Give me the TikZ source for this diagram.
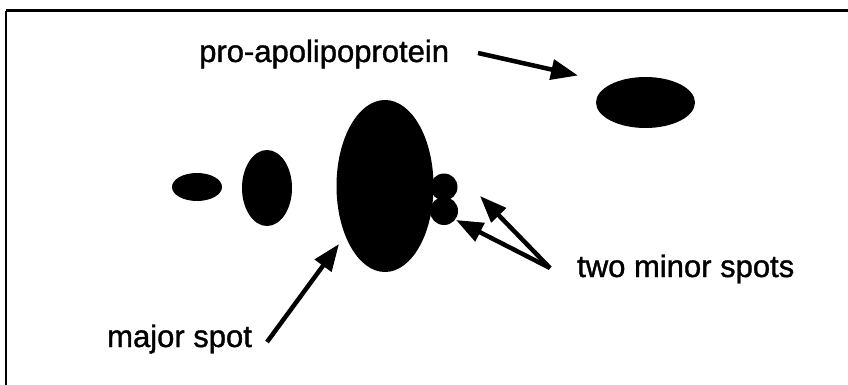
\documentclass[tikz,border=0pt]{standalone}
\usepackage{fontspec}
\setmainfont{Liberation Sans}[BoldFont=Liberation Sans,BoldFeatures={FakeBold=1.2}]
\usetikzlibrary{shapes.geometric,arrows.meta}
\begin{document}
\begin{tikzpicture}[x=1pt,y=-1pt,
  spot/.style={ellipse,fill=black,draw=none,inner sep=0pt},
  lbl/.style={anchor=base west,inner sep=0pt,font=\fontsize{31}{36}\selectfont\bfseries},
  pointer/.style={line width=4.5pt,-{Triangle[length=27pt,width=20pt]}}]
\useasboundingbox (0,0) rectangle (848,385);
\fill[white] (0,0) rectangle (848,385);
\clip (0,0) rectangle (848,385);
% frame
\draw[line width=3pt] (6,11) -- (860,11);
\draw[line width=2.5pt] (6,11) -- (6,400);
% spots
\node[spot,minimum width=50pt,minimum height=28pt] (s1) at (197,187) {};
\node[spot,minimum width=50pt,minimum height=76pt] (s2) at (267,188) {};
\node[spot,minimum width=97pt,minimum height=172pt] (major) at (385,186) {};
\node[spot,circle,minimum size=27pt] (m1) at (444,187) {};
\node[spot,circle,minimum size=28pt] (m2) at (444,211) {};
\node[spot,minimum width=99pt,minimum height=51pt] (pro) at (645.5,102.5) {};
% labels
\node[lbl] (tpro) at (199,62) {pro-apolipoprotein};
\node[lbl] (tminor) at (577,277) {two minor spots};
\node[lbl] (tmajor) at (107,347) {major spot};
% arrow end points
\coordinate (a1s) at (478,53);
\coordinate (a1e) at (578,75.5);
\coordinate (a2s) at (267,342);
\coordinate (a2e) at (339,244);
\coordinate (a3s) at (550,268);
\coordinate (a3e) at (480,196);
\coordinate (a4e) at (456,220);
\draw[pointer] (a1s) -- (a1e);
\draw[pointer] (a2s) -- (a2e);
\draw[pointer] (a3s) -- (a3e);
\draw[pointer] (a3s) -- (a4e);
\end{tikzpicture}
\end{document}
